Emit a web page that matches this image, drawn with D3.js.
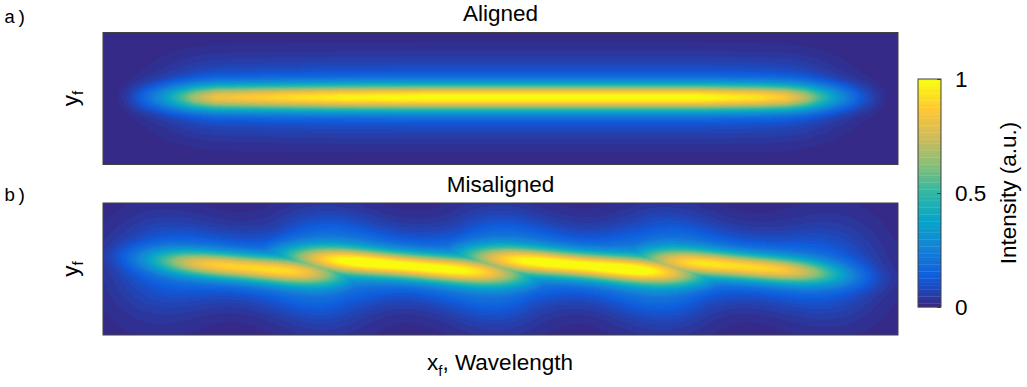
<!DOCTYPE html>
<html>
<head>
<meta charset="utf-8">
<script src="https://cdn.jsdelivr.net/npm/d3@7"></script>
<style>
  body { margin: 0; background: #fff; }
  text { font-family: "Liberation Sans", Arial, sans-serif; fill: #000; }
</style>
</head>
<body>
<div id="chart"></div>
<script>
// ---- data (x: 0..100 wavelength units, y: -50..50) ----

// aligned: intensity profile along x, and across-beam widths
const alignedX = [1.3, 3.1, 5.0, 7.2, 9.3, 11.6, 14.1, 19.7, 24.8, 30.0, 40.0, 56.0, 75.0, 82.6, 86.0, 88.3, 90.2, 92.7, 95.2, 97.1, 99.0];
const alignedI = [0, 0.05, 0.15, 0.3, 0.48, 0.68, 0.82, 0.88, 0.93, 0.97, 1.0, 1.0, 1.0, 0.93, 0.85, 0.7, 0.52, 0.3, 0.13, 0.05, 0];
const alignedY = 0.8;

// misaligned: four tilted lobes
const blobX = [18.2, 38.0, 60.6, 80.0];
const blobY = [1, 2.5, 2.5, 2];
const blobPeak = [0.88, 1.0, 1.0, 0.9];
const blobLen = [9.4, 11.9, 11.9, 9.8];
const blobSlope = [-0.5, -0.5, -0.5, -0.5];

// faint side lobes where the tilted lobes meet
const haloX = [7.0, 27.9, 49.6, 70.4, 91.6];
const haloAmp = [0.09, 0.16, 0.16, 0.16, 0.09];

// across-beam shape: narrow core + wide wing
const coreW = 6.9, wingW = 19, coreA = 0.82, wingA = 0.18;
const blobCoreW = 6.8, blobWingW = 17, blobCoreA = 0.78, blobWingA = 0.22, blobPow = 3;
const haloWx = 4.6, haloWy = 28;

// colour map (parula), colour bar ticks
const parulaStops = ["#352a87", "#0f5cdd", "#1481d6", "#06a4ca", "#2eb7a4", "#87bf77", "#d1bb59", "#fec832", "#f9fb0e"];
const cbTicks = [0, 0.5, 1];

// ---- layout ----
const W = 1027, H = 387;
const panels = [
  { key: "a", title: "Aligned", label: "a)", x0: 103, y0: 32.5, w: 795, h: 132, labelY: 22.5 },
  { key: "b", title: "Misaligned", label: "b)", x0: 103, y0: 203, w: 795, h: 132, labelY: 200.5 }
];

const svg = d3.select("#chart").append("svg")
  .attr("width", W).attr("height", H);

const parulaLin = d3.scaleLinear()
  .domain(d3.range(parulaStops.length).map(i => i / (parulaStops.length - 1)))
  .range(parulaStops)
  .interpolate(d3.interpolateRgb);
const levels = d3.quantize(t => parulaLin(t), 64);
const color = d3.scaleQuantize().domain([0, 1]).range(levels);

const g = (d, s) => Math.exp(-d * d / (2 * s * s));
const sg = (d, s, p) => Math.exp(-0.5 * Math.pow(Math.abs(d) / s, p));
const profileX = d3.scaleLinear().domain(alignedX).range(alignedI).clamp(true);

function fieldA(x, y) {
  const v = y - alignedY;
  return profileX(x) * (coreA * g(v, coreW) + wingA * g(v, wingW));
}

function fieldB(x, y) {
  let m = 0;
  for (let k = 0; k < blobX.length; k++) {
    const u = x - blobX[k];
    const v = y - blobY[k] - blobSlope[k] * u;
    const b = blobPeak[k] * sg(u, blobLen[k], blobPow) * (blobCoreA * g(v, blobCoreW) + blobWingA * g(v, blobWingW));
    if (b > m) m = b;
  }
  let s = 0;
  for (let k = 0; k < haloX.length; k++) {
    s += haloAmp[k] * g(x - haloX[k], haloWx) * g(y, haloWy);
  }
  return m + s;
}

function drawPanel(p, field) {
  const x = d3.scaleLinear().domain([0, 100]).range([0, p.w]);
  const y = d3.scaleLinear().domain([-50, 50]).range([p.h, 0]);
  const canvas = document.createElement("canvas");
  canvas.width = p.w; canvas.height = p.h;
  const ctx = canvas.getContext("2d");
  const img = ctx.createImageData(p.w, p.h);
  for (let j = 0; j < p.h; j++) {
    const yy = y.invert(j + 0.5);
    for (let i = 0; i < p.w; i++) {
      const v = Math.max(0, Math.min(1, field(x.invert(i + 0.5), yy)));
      const c = d3.rgb(color(v));
      const o = (j * p.w + i) * 4;
      img.data[o] = c.r; img.data[o + 1] = c.g; img.data[o + 2] = c.b; img.data[o + 3] = 255;
    }
  }
  ctx.putImageData(img, 0, 0);

  const gp = svg.append("g").attr("transform", `translate(${p.x0},${p.y0})`);
  gp.append("image")
    .attr("width", p.w).attr("height", p.h)
    .attr("href", canvas.toDataURL());
  gp.append("rect")
    .attr("width", p.w).attr("height", p.h)
    .attr("fill", "none").attr("stroke", "#404040").attr("stroke-width", 1);

  svg.append("text")
    .attr("x", p.x0 + p.w / 2).attr("y", p.y0 - 11.5)
    .attr("text-anchor", "middle").attr("font-size", 22.5)
    .text(p.title);

  svg.append("text")
    .attr("x", 4).attr("y", p.labelY)
    .style("font-family", "'Liberation Mono', 'Courier New', monospace")
    .attr("font-size", 19).attr("fill", "#222")
    .text(p.label);

  const yl = svg.append("text")
    .attr("transform", `translate(78,${p.y0 + p.h / 2}) rotate(-90)`)
    .attr("text-anchor", "middle").attr("font-size", 22.5);
  yl.append("tspan").text("y");
  yl.append("tspan").attr("font-size", 15).attr("dy", 5).text("f");
}

drawPanel(panels[0], fieldA);
drawPanel(panels[1], fieldB);

// x label
const xl = svg.append("text")
  .attr("x", 500).attr("y", 370)
  .attr("text-anchor", "middle").attr("font-size", 22.5);
xl.append("tspan").text("x");
xl.append("tspan").attr("font-size", 15).attr("dy", 6).text("f");
xl.append("tspan").attr("dy", -6).text(", Wavelength");

// colour bar
const cb = { x0: 918, y0: 79, w: 23, h: 228 };
const cy = d3.scaleLinear().domain([0, 1]).range([cb.y0 + cb.h, cb.y0]);
svg.append("g").selectAll("rect")
  .data(levels)
  .join("rect")
  .attr("x", cb.x0)
  .attr("y", (d, i) => cy((i + 1) / 64))
  .attr("width", cb.w)
  .attr("height", (d, i) => cy(i / 64) - cy((i + 1) / 64) + 0.3)
  .attr("fill", d => d);
svg.append("rect")
  .attr("x", cb.x0).attr("y", cb.y0).attr("width", cb.w).attr("height", cb.h)
  .attr("fill", "none").attr("stroke", "#404040").attr("stroke-width", 1);

const cAxis = d3.axisRight(cy).tickValues(cbTicks).tickSize(-4).tickPadding(14)
  .tickFormat(d => d3.format("")(d));
const ca = svg.append("g").attr("transform", `translate(${cb.x0 + cb.w},0)`).call(cAxis);
ca.select(".domain").remove();
ca.selectAll(".tick line").attr("stroke", "#404040");
ca.selectAll(".tick text")
  .attr("font-size", 22.5)
  .style("font-family", "'Liberation Sans', Arial, sans-serif")
  .attr("fill", "#000");

svg.append("text")
  .attr("transform", `translate(1016,${cb.y0 + cb.h / 2}) rotate(-90)`)
  .attr("text-anchor", "middle").attr("font-size", 22.5)
  .text("Intensity (a.u.)");
</script>
</body>
</html>
